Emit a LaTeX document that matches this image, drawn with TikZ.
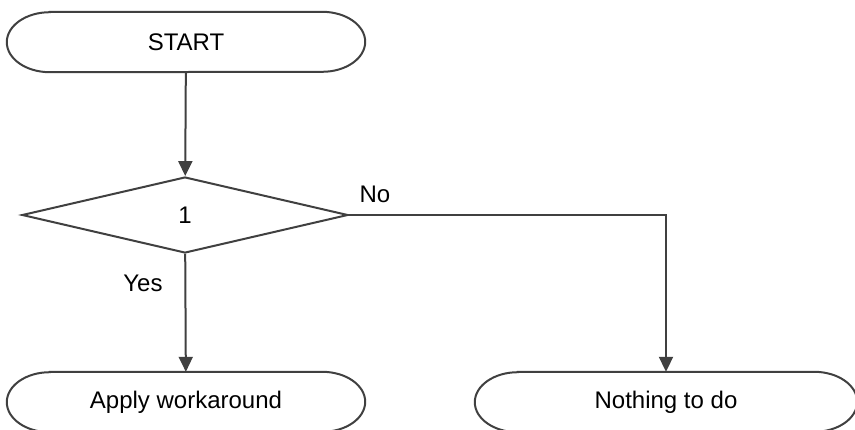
\documentclass[tikz,border=0pt]{standalone}
\usepackage{fontspec}
\setmainfont{Liberation Sans}
\usetikzlibrary{shapes.geometric,arrows.meta}
\definecolor{linegray}{HTML}{404040}

\begin{document}
\begin{tikzpicture}[x=1pt, y=-1pt,
  every node/.style = {font=\fontsize{24}{28}\selectfont, inner sep=0pt},
  term/.style = {shape=rectangle, minimum width=358pt, minimum height=60pt},
  decision/.style = {shape=diamond, draw=linegray, line width=2pt,
    aspect=4.29, minimum width=326pt, minimum height=76pt},
  flow/.style = {draw=linegray, line width=2pt,
    -{Triangle[length=15pt,width=14pt]}}]
    \tikzstyle{outline}=[draw=linegray, line width=2pt]
  \useasboundingbox (0,0) rectangle (855,429);
  \clip (0,0) rectangle (855,429);
  \node[term] (start) at (186,42) {START};
  \node[decision] (test) at (185,215) {\raisebox{-3pt}{1}};
  \node[term] (apply) at (186,402) {Apply workaround};
  \node[term, minimum width=382pt] (nothing) at (666,402) {Nothing to do};
  \node (no) at (375,194) {No};
  \node (yes) at (143,283) {Yes};
  \foreach \n in {start,apply,nothing}
    \draw[outline] ([xshift=43pt]\n.north west) -- ([xshift=-43pt]\n.north east)
      arc[start angle=90, end angle=-90, x radius=43pt, y radius=30pt]
      -- ([xshift=43pt]\n.south west)
      arc[start angle=270, end angle=90, x radius=43pt, y radius=30pt] -- cycle;
  \draw[flow] (start) -- (test);
  \draw[flow] (test) -- (apply);
  \draw[flow] (test.east) -| (nothing);
\end{tikzpicture}
\end{document}
